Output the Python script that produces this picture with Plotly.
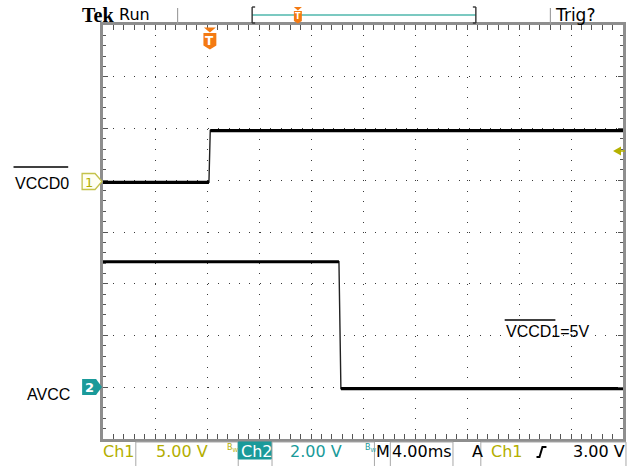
import plotly.graph_objects as go

# ---------------- data ----------------
time_ch1_ms = [-8.0, 0.15, 0.25, 32.0]
volt_ch1 = [-0.2, -0.2, 4.8, 4.8]
time_ch2_ms = [-8.0, 10.15, 10.3, 32.0]
volt_ch2 = [4.85, 4.85, -0.05, -0.05]

time_range = [-8, 32]      # 4.00 ms/div, 10 div
ch1_range = [-25, 15]      # 5.00 V/div, 8 div
ch2_range = [-2, 14]       # 2.00 V/div, 8 div

label_ch1 = "VCCD0"
label_ch2 = "AVCC"
note_text = "VCCD1=5V"
ch1_scale = "5.00 V"
ch2_scale = "2.00 V"
time_scale = "4.00ms"
trig_level = "3.00 V"

# ---------------- layout helpers ----------------
W, H = 636, 466
L, R, T, B = 103, 10, 25, 27
PW, PH = W - L - R, H - T - B

def px(x):
    return (x - L) / PW

def py(y):
    return (H - B - y) / PH

def path(points, close=True):
    s = "M" + " L".join(f"{px(x):.5f},{py(y):.5f}" for x, y in points)
    return s + (" Z" if close else "")

OLIVE = "#b3ae00"
TEAL = "#1a9a9a"
TEAL_L = "#4fb7ad"
ORANGE = "#f47a12"
GRAY = "#8e8e8e"

fig = go.Figure()

def add_channel(t, v, axis):
    # full waveform (thin, shows the edges)
    fig.add_trace(go.Scatter(x=t, y=v, mode="lines",
                             line=dict(color="#222", width=1.4), yaxis=axis,
                             showlegend=False, hoverinfo="skip"))
    # flat (noisy, thicker) parts: first pair and last pair of samples
    fig.add_trace(go.Scatter(x=[t[0], t[1], None, t[2], t[3]],
                             y=[v[0], v[1], None, v[2], v[3]], mode="lines",
                             line=dict(color="black", width=3.2), yaxis=axis,
                             showlegend=False, hoverinfo="skip"))

add_channel(time_ch1_ms, volt_ch1, "y")
add_channel(time_ch2_ms, volt_ch2, "y2")

shapes = []
anns = []

def line(x0, y0, x1, y1, color="black", width=1.3):
    shapes.append(dict(type="line", xref="paper", yref="paper",
                       x0=px(x0), y0=py(y0), x1=px(x1), y1=py(y1),
                       line=dict(color=color, width=width), layer="above"))

def poly(points, fill, lc=None, lw=0):
    shapes.append(dict(type="path", xref="paper", yref="paper", path=path(points),
                       fillcolor=fill, line=dict(color=lc or fill, width=lw),
                       layer="above"))

def rect(x0, y0, x1, y1, fill="rgba(0,0,0,0)", lc="#a8a8a8", lw=1):
    shapes.append(dict(type="rect", xref="paper", yref="paper",
                       x0=px(x0), y0=py(y0), x1=px(x1), y1=py(y1),
                       fillcolor=fill, line=dict(color=lc, width=lw), layer="above"))

def text(x, y, s, size=14, color="black", family="Liberation Sans",
         xanchor="left", yanchor="middle"):
    anns.append(dict(x=px(x), y=py(y), xref="paper", yref="paper", text=s,
                     showarrow=False, xanchor=xanchor, yanchor=yanchor,
                     font=dict(size=size, color=color, family=family)))

# ---- top bar ----
text(80, 15, "<b>Tek</b>", size=20, family="Liberation Serif")
text(117, 15, "Run", size=16, family="DejaVu Sans")
line(178, 8, 178, 24, color="#a0a0a0", width=1.2)
line(553, 8, 553, 24, color="#a0a0a0", width=1.2)
text(556, 15, "Trig?", size=17, family="DejaVu Sans")
line(253, 15, 478, 15, color=TEAL_L, width=1.6)
line(253, 7, 253, 23, color="#333", width=1.4)
line(253, 7, 256, 7, color="#333", width=1.4)
line(253, 23, 256, 23, color="#333", width=1.4)
line(478, 7, 478, 23, color="#333", width=1.4)
line(475, 7, 478, 7, color="#333", width=1.4)
line(475, 23, 478, 23, color="#333", width=1.4)
# small trigger-position marker
poly([(295, 7), (303, 7), (299, 10.5)], ORANGE)
poly([(295, 11), (303, 11), (303, 21), (299, 23.5), (295, 21)], ORANGE)
text(299, 17, "<b>T</b>", size=8, color="white", family="DejaVu Sans", xanchor="center")

# big trigger marker
poly([(204.5, 27.5), (216.5, 27.5), (210.5, 32.5)], ORANGE)
poly([(204, 33), (217, 33), (217, 45.5), (210.5, 49.5), (204, 45.5)], ORANGE)
text(210.5, 41, "<b>T</b>", size=12, color="white", family="DejaVu Sans", xanchor="center")

# ---- channel markers ----
poly([(82, 173.5), (95, 173.5), (102, 181.5), (95, 189.5), (82, 189.5)],
     "#fffff2", lc="#c4c24a", lw=1.3)
text(88.5, 182, "1", size=13, color=OLIVE, family="DejaVu Sans", xanchor="center")
poly([(82, 379), (96, 379), (102, 387), (96, 395), (82, 395)], TEAL)
text(89, 387.5, "<b>2</b>", size=13, color="white", family="DejaVu Sans", xanchor="center")

# trigger level arrow (right)
poly([(616, 151), (624, 146.5), (624, 155.5)], "#b5b100")
line(623, 151, 628, 151, color="#b5b100", width=1.5)

# ---- labels ----
text(12, 183, label_ch1, size=16)
line(13, 167, 68, 167, width=1.3)
text(25, 394, label_ch2, size=16)
text(506, 331, note_text, size=16)
line(507, 320, 558, 320, width=1.3)

# ---- bottom status bar ----
SB = "DejaVu Sans"
YS = 451.5
text(101, YS, "Ch1", size=16, color=OLIVE, family=SB)
rect(136, 442, 239, 467)
text(154, YS, ch1_scale, size=16, color=OLIVE, family=SB)
text(226, 448, "B<sub>W</sub>", size=8, color=OLIVE, family=SB)
rect(239, 442, 272.5, 459, fill=TEAL, lc=TEAL)
text(240, YS, "Ch2", size=16, color="white", family=SB)
rect(273, 442, 376, 467)
text(289, YS, ch2_scale, size=16, color=TEAL, family=SB)
text(364, 448, "B<sub>W</sub>", size=8, color=TEAL, family=SB)
text(376, YS, "M", size=16, family=SB)
rect(392, 442, 455, 467)
text(392, YS, time_scale, size=16, family=SB)
text(472, YS, "A", size=16, family=SB)
rect(483, 442, 629, 467)
text(491, YS, "Ch1", size=16, color=OLIVE, family=SB)
shapes.append(dict(type="path", xref="paper", yref="paper",
                   path=path([(539, 457), (542, 457), (545, 447), (549, 447)], close=False),
                   line=dict(color="black", width=2), layer="above"))
text(574, YS, trig_level, size=16, family=SB)

axis_common = dict(showline=True, linecolor=GRAY, linewidth=2.5, mirror="allticks",
                   showticklabels=False, zeroline=False, ticks="inside",
                   tickcolor="#555", tickwidth=1, ticklen=5,
                   gridcolor="#3a3a3a", gridwidth=1)

fig.update_layout(
    width=W, height=H, margin=dict(l=L, r=R, t=T, b=B),
    paper_bgcolor="white", plot_bgcolor="white",
    xaxis=dict(range=time_range, dtick=4, griddash="1px,9.35px",
               minor=dict(dtick=0.8, ticks="inside", ticklen=3, tickcolor="#555",
                          showgrid=False),
               **axis_common),
    yaxis=dict(range=ch1_range, dtick=5, griddash="1px,9.46px",
               minor=dict(dtick=1, ticks="inside", ticklen=3, tickcolor="#555",
                          showgrid=False),
               **axis_common),
    yaxis2=dict(range=ch2_range, overlaying="y", visible=False),
    shapes=shapes, annotations=anns,
)

fig.write_html("out.html", config={"displayModeBar": False},
               post_script="document.body.style.margin='0px';document.body.style.overflow='hidden';")
